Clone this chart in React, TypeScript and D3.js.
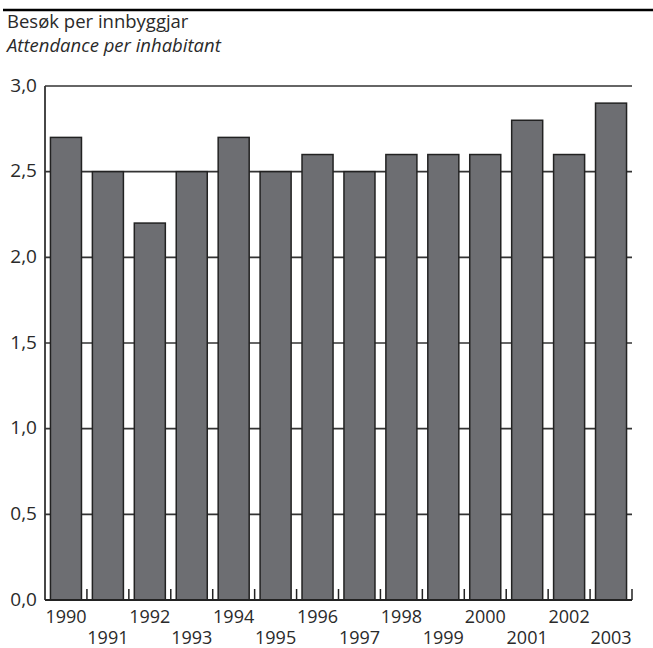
import React from "react";
import * as d3 from "d3";

const years = ["1990","1991","1992","1993","1994","1995","1996","1997","1998","1999","2000","2001","2002","2003"];
const values = [2.7, 2.5, 2.2, 2.5, 2.7, 2.5, 2.6, 2.5, 2.6, 2.6, 2.6, 2.8, 2.6, 2.9];
const yTicks = [0, 0.5, 1.0, 1.5, 2.0, 2.5, 3.0];
const titleNo = "Besøk per innbyggjar";
const titleEn = "Attendance per inhabitant";

const W = 653, H = 648;
const left = 45, right = 632, top = 86, bottom = 600;
const font = "'Open Sans', 'DejaVu Sans', sans-serif";

export default function App() {
  const x = d3.scaleBand<string>().domain(years).range([left, right]).paddingInner(0.26).paddingOuter(0.13);
  const xb = d3.scaleLinear().domain([0, years.length]).range([left, right]);
  const y = d3.scaleLinear().domain([0, 3]).range([bottom, top]);
  const fmt = (v: number) => v.toFixed(1).replace(".", ",");
  return (
    <svg width={W} height={H} style={{ position: "absolute", left: 0, top: 0, background: "#fff" }} fontFamily={font}>
      <line x1={3} x2={W} y1={10} y2={10} stroke="#000" strokeWidth={2.5} />
      <text x={7} y={28} fontSize={18.5} fill="#2a2a2a">{titleNo}</text>
      <text x={7} y={52} fontSize={18.5} fill="#2a2a2a" fontStyle="italic">{titleEn}</text>
      {yTicks.map((t) => (
        <g key={t}>
          {t > 0 && <line x1={left} x2={right} y1={y(t)} y2={y(t)} stroke="#333" strokeWidth={1.6} />}
          <text x={37} y={y(t)} dy="0.3em" textAnchor="end" fontSize={19} fill="#2a2a2a">{fmt(t)}</text>
        </g>
      ))}
      {values.map((v, i) => (
        <rect key={years[i]} x={x(years[i])} y={y(v)} width={x.bandwidth()} height={y(0) - y(v)}
          fill="#6d6e72" stroke="#222" strokeWidth={1.5} />
      ))}
      {d3.range(1, years.length + 1).map((k) => (
        <line key={k} x1={xb(k)} x2={xb(k)} y1={bottom} y2={bottom - 11} stroke="#222" strokeWidth={1.5} />
      ))}
      <line x1={left} x2={left} y1={top} y2={bottom} stroke="#333" strokeWidth={1.8} />
      <line x1={left} x2={right} y1={bottom} y2={bottom} stroke="#222" strokeWidth={2} />
      {years.map((yr, i) => (
        <text key={yr} x={(x(yr) as number) + x.bandwidth() / 2} y={i % 2 === 0 ? 623 : 644}
          textAnchor="middle" fontSize={18} fill="#2a2a2a">{yr}</text>
      ))}
    </svg>
  );
}
